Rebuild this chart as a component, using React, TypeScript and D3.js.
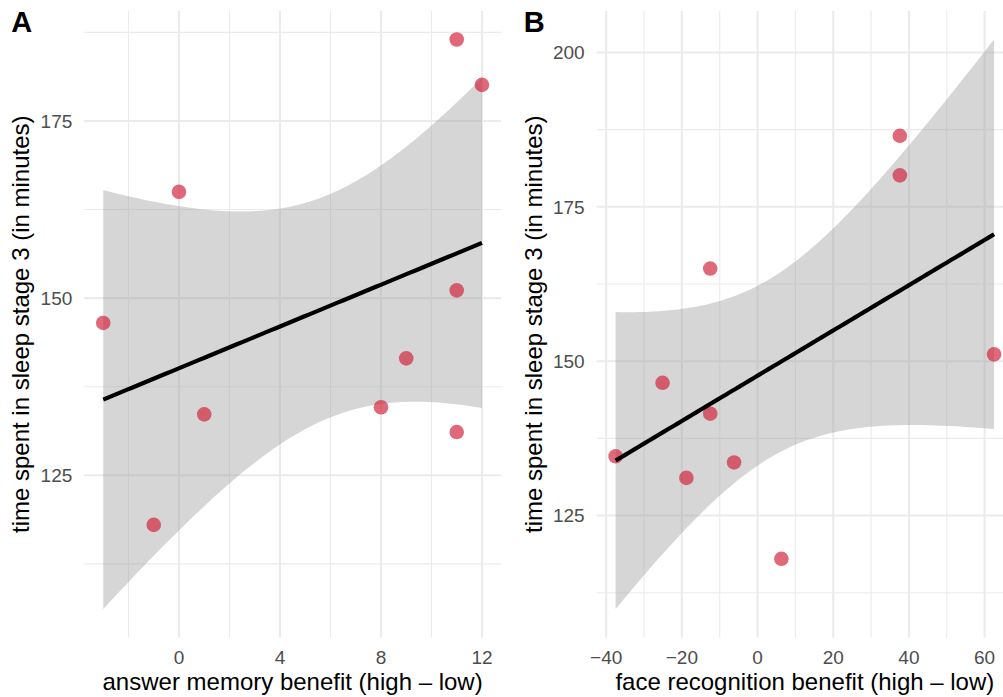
import React from 'react';
import * as d3 from 'd3';

// sleep stage 3 minutes, shared by both panels
const sleepA = [146.5, 118, 165, 133.6, 134.6, 141.5, 151.1, 131.1, 186.5, 180.1];
const answerBenefit = [-3, -1, 0, 1, 8, 9, 11, 11, 11, 12];

const sleepB = [134.6, 146.5, 131.1, 165, 141.5, 133.6, 118, 186.5, 180.1, 151.1];
const faceBenefit = [-37.5, -25.1, -18.8, -12.5, -12.5, -6.2, 6.3, 37.6, 37.6, 62.5];

const ticksAx = [0, 4, 8, 12];
const minorAx = [-2, 2, 6, 10];
const ticksAy = [125, 150, 175];
const ticksBx = [-40, -20, 0, 20, 40, 60];
const minorBx = [-30, -10, 10, 30, 50];
const ticksBy = [125, 150, 175, 200];
const minorY = [112.5, 137.5, 162.5, 187.5];

const T_975_DF8 = 2.306;
const FONT = '"Liberation Sans", Arial, Helvetica, sans-serif';

type Fit = { x: number; y: number; lo: number; hi: number };

function lmFit(xs: number[], ys: number[], n = 80): Fit[] {
  const mx = d3.mean(xs)!;
  const my = d3.mean(ys)!;
  const sxx = d3.sum(xs, (x) => (x - mx) ** 2);
  const sxy = d3.sum(xs, (x, i) => (x - mx) * (ys[i] - my));
  const b = sxy / sxx;
  const a = my - b * mx;
  const rss = d3.sum(xs, (x, i) => (ys[i] - (a + b * x)) ** 2);
  const s = Math.sqrt(rss / (xs.length - 2));
  const [x0, x1] = d3.extent(xs) as [number, number];
  return d3.range(n).map((i) => {
    const x = x0 + ((x1 - x0) * i) / (n - 1);
    const y = a + b * x;
    const se = s * Math.sqrt(1 / xs.length + (x - mx) ** 2 / sxx);
    return { x, y, lo: y - T_975_DF8 * se, hi: y + T_975_DF8 * se };
  });
}

function expand([a, b]: [number, number], f = 0.05): [number, number] {
  const d = (b - a) * f;
  return [a - d, b + d];
}

type PanelProps = {
  tag: string;
  xs: number[];
  ys: number[];
  left: number;
  right: number;
  xTicks: number[];
  xMinor: number[];
  yTicks: number[];
  xTitle: string;
};

function Panel({ tag, xs, ys, left, right, xTicks, xMinor, yTicks, xTitle }: PanelProps) {
  const top = 11;
  const bottom = 637.5;
  const fit = lmFit(xs, ys);

  const xScale = d3.scaleLinear().domain(expand(d3.extent(xs) as [number, number])).range([left, right]);
  const yMin = Math.min(d3.min(ys)!, d3.min(fit, (d) => d.lo)!);
  const yMax = Math.max(d3.max(ys)!, d3.max(fit, (d) => d.hi)!);
  const yScale = d3.scaleLinear().domain(expand([yMin, yMax])).range([bottom, top]);

  const area = d3.area<Fit>()
    .x((d) => xScale(d.x))
    .y0((d) => yScale(d.lo))
    .y1((d) => yScale(d.hi));
  const line = d3.line<Fit>()
    .x((d) => xScale(d.x))
    .y((d) => yScale(d.y));

  const [d0, d1] = yScale.domain();
  const yMinor = minorY.filter((v) => v >= d0 && v <= d1);
  const fmt = (v: number) => (v < 0 ? '\u2212' + Math.abs(v) : String(v));
  const grid = '#EBEBEB';

  return (
    <g>
      {yMinor.map((v) => (
        <line key={'ym' + v} x1={left} x2={right} y1={yScale(v)} y2={yScale(v)} stroke={grid} strokeWidth={1.1} />
      ))}
      {xMinor.map((v) => (
        <line key={'xm' + v} x1={xScale(v)} x2={xScale(v)} y1={top} y2={bottom} stroke={grid} strokeWidth={1.1} />
      ))}
      {yTicks.map((v) => (
        <line key={'y' + v} x1={left} x2={right} y1={yScale(v)} y2={yScale(v)} stroke={grid} strokeWidth={2.1} />
      ))}
      {xTicks.map((v) => (
        <line key={'x' + v} x1={xScale(v)} x2={xScale(v)} y1={top} y2={bottom} stroke={grid} strokeWidth={2.1} />
      ))}

      <path d={area(fit)!} fill="#999999" fillOpacity={0.4} />

      {xs.map((x, i) => (
        <circle key={i} cx={xScale(x)} cy={yScale(ys[i])} r={7.3} fill="#D0213A" fillOpacity={0.68} />
      ))}

      <path d={line(fit)!} fill="none" stroke="#000" strokeWidth={4.2} />

      {yTicks.map((v) => (
        <text key={'yl' + v} x={left - 12} y={yScale(v)} dy="0.36em" textAnchor="end" fontSize={19} fill="#4D4D4D" fontFamily={FONT}>
          {fmt(v)}
        </text>
      ))}
      {xTicks.map((v) => (
        <text key={'xl' + v} x={xScale(v)} y={664} textAnchor="middle" fontSize={19} fill="#4D4D4D" fontFamily={FONT}>
          {fmt(v)}
        </text>
      ))}

      <text x={(left + right) / 2} y={690} textAnchor="middle" fontSize={24} fill="#000" fontFamily={FONT}>
        {xTitle}
      </text>
      <text
        transform={`translate(${left - 55},${(top + bottom) / 2}) rotate(-90)`}
        textAnchor="middle"
        fontSize={24}
        fill="#000"
        fontFamily={FONT}
      >
        time spent in sleep stage 3 (in minutes)
      </text>
      <text x={left - 73} y={32} fontSize={29} fontWeight="bold" fill="#000" fontFamily={FONT}>
        {tag}
      </text>
    </g>
  );
}

export default function App() {
  return (
    <svg
      width={1003}
      height={697}
      style={{ position: 'absolute', left: 0, top: 0, background: '#fff', overflow: 'hidden' }}
    >
      <rect width={1003} height={697} fill="#fff" />
      <Panel
        tag="A"
        xs={answerBenefit}
        ys={sleepA}
        left={84.3}
        right={500.9}
        xTicks={ticksAx}
        xMinor={minorAx}
        yTicks={ticksAy}
        xTitle="answer memory benefit (high – low)"
      />
      <Panel
        tag="B"
        xs={faceBenefit}
        ys={sleepB}
        left={596.7}
        right={1013}
        xTicks={ticksBx}
        xMinor={minorBx}
        yTicks={ticksBy}
        xTitle="face recognition benefit (high – low)"
      />
    </svg>
  );
}
